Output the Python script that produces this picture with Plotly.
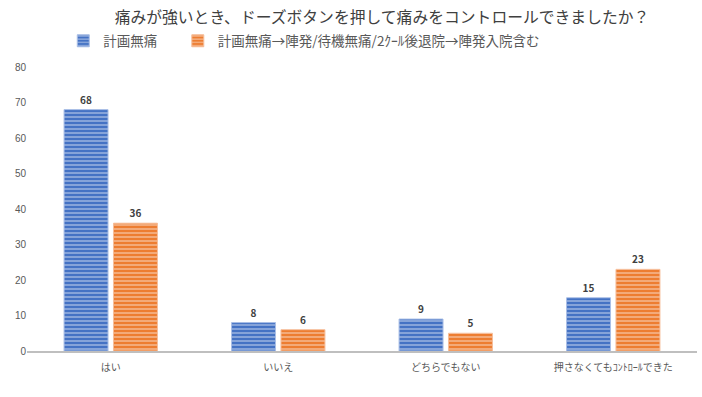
import plotly.graph_objects as go

categories = ["はい", "いいえ", "どちらでもない", "押さなくてもｺﾝﾄﾛｰﾙできた"]
series_names = ["計画無痛", "計画無痛→陣発/待機無痛/2ｸｰﾙ後退院→陣発入院含む"]
series_a = [68, 8, 9, 15]
series_b = [36, 6, 5, 23]
y_ticks = [0, 10, 20, 30, 40, 50, 60, 70, 80]
title_text = "痛みが強いとき、ドーズボタンを押して痛みをコントロールできましたか？"

FONT = "Noto Sans CJK JP"
colors = ["#4472C4", "#ED7D31"]
light = ["#A9BEE6", "#F6BE9A"]
legend_ids = ["legend", "legend2"]

fig = go.Figure()
for name, vals, c, lc, lg in zip(series_names, [series_a, series_b], colors, light, legend_ids):
    fig.add_trace(go.Bar(
        x=categories, y=vals, name=name, legend=lg,
        marker=dict(color=c, line=dict(color=lc, width=1),
                    pattern=dict(shape="-", fgcolor="#FFFFFF", bgcolor=c,
                                 size=4, solidity=0.35, fillmode="overlay")),
        text=[f"<b>{v}</b>" for v in vals], textposition="outside",
        textfont=dict(family=FONT, size=10, color="#404040"),
        cliponaxis=False,
    ))

legend_common = dict(orientation="h", xanchor="left", yref="container", y=1 - 41/397,
                     yanchor="middle", font=dict(family=FONT, size=13.5, color="#595959"),
                     itemwidth=30, bgcolor="rgba(0,0,0,0)")

fig.update_layout(
    width=702, height=397,
    margin=dict(l=27, r=5, t=65, b=46),
    paper_bgcolor="white", plot_bgcolor="white",
    barmode="group", bargap=0.41, bargroupgap=0.11,
    font=dict(family=FONT, color="#595959"),
    title=dict(text=title_text, x=382/702, xanchor="center", y=1 - 17/397, yanchor="middle",
               font=dict(family=FONT, size=15.8, color="#404040")),
    legend=dict(x=38/702, **legend_common),
    legend2=dict(x=158/702, **legend_common),
    showlegend=True,
)

fig.update_xaxes(showline=True, linecolor="#BFBFBF", linewidth=2, showgrid=False,
                 ticks="", ticklabelstandoff=6,
                 tickfont=dict(family=FONT, size=10, color="#595959"),
                 categoryorder="array", categoryarray=categories)
fig.update_yaxes(range=[0, 80], tickvals=y_ticks, showgrid=False, zeroline=False,
                 showline=False, ticks="", tickfont=dict(family="Liberation Sans", size=10, color="#595959"))

fig.write_html("out.html")
